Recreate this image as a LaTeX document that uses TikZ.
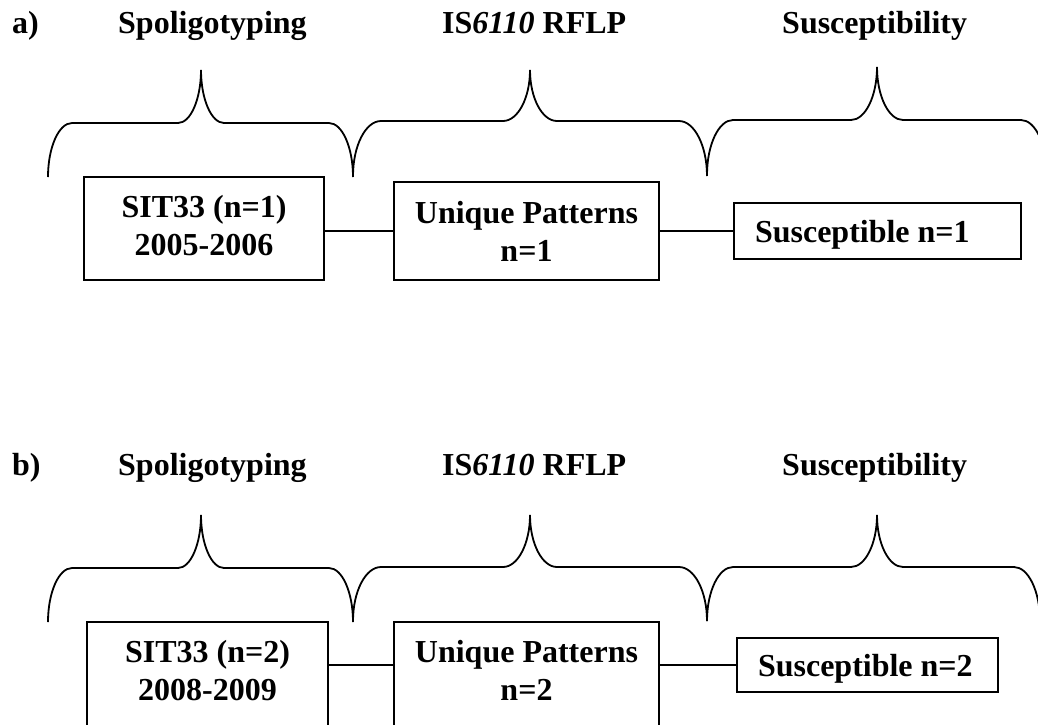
\documentclass[tikz,border=0pt]{standalone}
\usepackage{fontspec}
\setmainfont{Liberation Serif}
\begin{document}
% #1 left end x, #2 tip x, #3 right end x, #4 end y, #5 bar y, #6 tip y,
% #7 end corner width, #8 tip half width
\newcommand\curlybrace[8]{%
  \draw[bracestroke]
    (#1,#4) .. controls (#1,{#4-0.55*(#4-#5)}) and ({#1+0.45*#7},#5) .. ({#1+#7},#5)
    -- ({#2-#8},#5) .. controls ({#2-0.45*#8},#5) and (#2,{#5-0.45*(#5-#6)}) .. (#2,#6)
    .. controls (#2,{#5-0.45*(#5-#6)}) and ({#2+0.45*#8},#5) .. ({#2+#8},#5)
    -- ({#3-#7},#5) .. controls ({#3-0.45*#7},#5) and (#3,{#4-0.55*(#4-#5)}) .. (#3,#4);}
% extra depth under the last line of a box text
\newcommand\dn[1]{\rule[-#1pt]{0pt}{#1pt}}
\begin{tikzpicture}[x=1pt,y=-1pt,
  bracestroke/.style={line width=1.8pt},
  heading/.style={anchor=base west,inner sep=0pt,font=\fontsize{32}{38}\selectfont\bfseries},
  stagebox/.style={draw,line width=1.8pt,inner sep=0pt,align=center,
    font=\fontsize{32}{38}\selectfont\bfseries},
  resultbox/.style={draw,line width=1.8pt,inner ysep=0pt,inner xsep=21pt,align=flush left,
    text height=22pt,text depth=0pt,font=\fontsize{32}{38}\selectfont\bfseries},
  link/.style={line width=1.4pt}]
\useasboundingbox (0,0) rectangle (1038,724);

% ---- panel a ----
\node[heading] (ha) at (12,33) {a)};
\node[heading] (ha1) at (118,33) {Spoligotyping};
\node[heading] (ha2) at (442,33) {IS\textit{6110} RFLP};
\node[heading] (ha3) at (782,33) {Susceptibility};

\curlybrace{48}{201}{353}{177}{123}{70}{24}{23}
\curlybrace{353}{530}{707}{176}{121}{70}{28}{27}
\curlybrace{707}{877}{1047}{175}{120}{67}{26}{26}

\node[stagebox,minimum width=240pt,minimum height=103pt] (a1) at (204,228.5)
  {SIT33 (n=1)\\2005-2006\dn{7}};
\node[stagebox,minimum width=265pt,minimum height=98pt] (a2) at (526.5,231)
  {Unique Patterns\\n=1};
\node[resultbox,minimum height=56pt,text width=245pt] (a3) at (877.5,231)
  {Susceptible n=1};

\draw[link] (a1.east |- a3.west) -- (a2.west |- a3.west);
\draw[link] (a2.east |- a3.west) -- (a3.west);

% ---- panel b ----
\node[heading] (hb) at (12,475) {b)};
\node[heading] (hb1) at (118,475) {Spoligotyping};
\node[heading] (hb2) at (442,475) {IS\textit{6110} RFLP};
\node[heading] (hb3) at (782,475) {Susceptibility};

\curlybrace{48}{201}{353}{622}{568}{515}{24}{23}
\curlybrace{353}{530}{707}{621}{567}{515}{28}{27}
\curlybrace{707}{877}{1040}{621}{567}{515}{26}{26}

\node[stagebox,minimum width=241pt,minimum height=120pt] (b1) at (207.5,682)
  {SIT33 (n=2)\\2008-2009\dn{24}};
\node[stagebox,minimum width=265pt,minimum height=120pt] (b2) at (526.5,682)
  {Unique Patterns\\n=2\dn{24}};
\node[resultbox,minimum height=54pt,text width=219pt] (b3) at (867.5,665)
  {Susceptible n=2};

\draw[link] (b1.east |- b3.west) -- (b2.west |- b3.west);
\draw[link] (b2.east |- b3.west) -- (b3.west);
\end{tikzpicture}
\end{document}
